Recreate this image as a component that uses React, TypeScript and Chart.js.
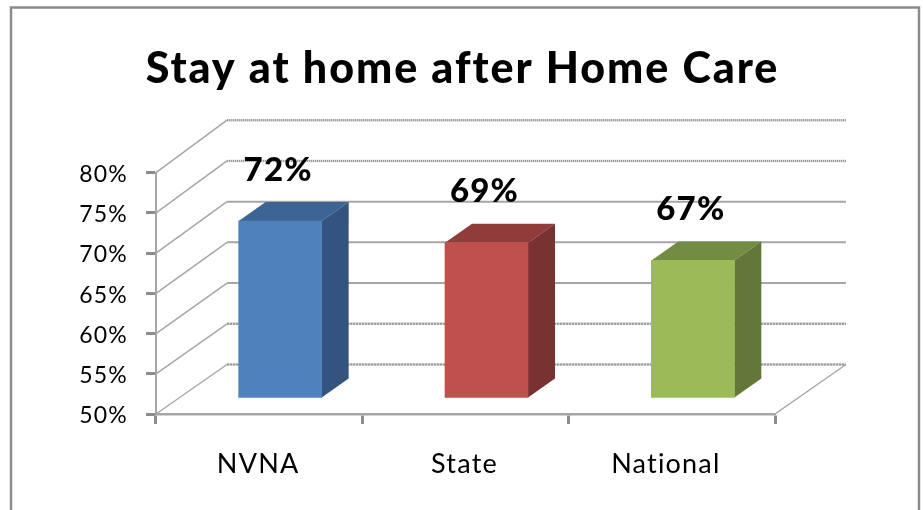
import React, { useEffect, useRef } from "react";
import { Chart, registerables } from "chart.js";

Chart.register(...registerables);

const titleText = "Stay at home after Home Care";
const categories = ["NVNA", "State", "National"];
const values = [72, 69.3, 67.1];
const frontColors = ["#4f81bd", "#c0504d", "#9bbb59"];
const topColors = ["#3c6494", "#8f3c3a", "#728c42"];
const sideColors = ["#32547e", "#773231", "#627738"];
const gridDashes = [[2, 1], [2, 1], [], [], [], [1, 1], [1, 1]];
const xLabelShift = [-1, -1, -6];

const GRID = "#a6a6a6";
const FONT = "Lato, sans-serif";
const BAR_DX = 21;
const BAR_DY = 16;
const DEPTH_X = 27;
const DEPTH_Y = 19;
const BACK_X = 71;

function shiftLabels(scale: any, dx: (i: number) => number, dy: number) {
  const orig = scale._computeLabelItems.bind(scale);
  scale._computeLabelItems = (area: any) =>
    orig(area).map((item: any, i: number) => ({
      ...item,
      options: {
        ...item.options,
        translation: [item.options.translation[0] + dx(i), item.options.translation[1] + dy],
      },
    }));
  scale._labelItems = null;
}

const threeD = {
  id: "threeD",
  afterLayout(chart: any) {
    const tb = chart.titleBlock;
    if (tb && !tb.__spaced) {
      const orig = tb.draw.bind(tb);
      tb.draw = () => {
        const c = chart.ctx;
        c.save();
        c.letterSpacing = "1.95px";
        c.translate(75, 0);
        orig();
        c.restore();
      };
      tb.__spaced = true;
    }
    const x = chart.scales.x;
    if (!x.__spaced) {
      const orig = x.draw.bind(x);
      x.draw = (a: any) => {
        const c = chart.ctx;
        c.save();
        c.letterSpacing = "4.5px";
        orig(a);
        c.restore();
      };
      shiftLabels(x, (i) => xLabelShift[i] || 0, 2);
      x.__spaced = true;
    }
    const y = chart.scales.y;
    if (!y.__spaced) {
      shiftLabels(y, () => 0, 2);
      y.__spaced = true;
    }
  },
  beforeDraw(chart: any) {
    const c = chart.ctx;
    c.letterSpacing = "1.2px";
    c.save();
    c.strokeStyle = "#8c8c8c";
    c.lineWidth = 2.5;
    c.beginPath();
    c.moveTo(11, 510);
    c.lineTo(11, 7.5);
    c.lineTo(919, 7.5);
    c.lineTo(919, 510);
    c.stroke();
    c.restore();
  },
  beforeDatasetsDraw(chart: any) {
    const c = chart.ctx;
    const { left, right, bottom } = chart.chartArea;
    const yScale = chart.scales.y;
    c.save();
    yScale.ticks.forEach((t: any, i: number) => {
      const y = yScale.getPixelForValue(t.value);
      const by = bottom - 49.5 - (bottom - y) * 1.012;
      const dash = gridDashes[i] || [];
      c.strokeStyle = GRID;
      c.setLineDash([]);
      c.lineWidth = 1.5;
      c.beginPath();
      c.moveTo(left, y);
      c.lineTo(left + BACK_X, by);
      c.stroke();
      if (dash.length) {
        c.strokeStyle = "#d6d6d6";
        c.lineWidth = 2.5;
        c.beginPath();
        c.moveTo(left + BACK_X, by);
        c.lineTo(right + BACK_X, by);
        c.stroke();
      }
      c.strokeStyle = dash.length ? "#999999" : GRID;
      c.lineWidth = 2;
      c.setLineDash(dash);
      c.beginPath();
      c.moveTo(left + BACK_X, by);
      c.lineTo(right + BACK_X, by);
      c.stroke();
    });
    c.setLineDash([]);
    const base = yScale.getPixelForValue(50);
    c.strokeStyle = GRID;
    c.lineWidth = 1.5;
    c.beginPath();
    c.moveTo(right, base);
    c.lineTo(right + BACK_X, base - 49.5);
    c.stroke();

    chart.getDatasetMeta(0).data.forEach((bar: any, i: number) => {
      const l = bar.x - bar.width / 2 + BAR_DX;
      const r = bar.x + bar.width / 2 + BAR_DX;
      const t = bar.y - BAR_DY;
      const b = bar.base - BAR_DY;
      c.fillStyle = topColors[i];
      c.beginPath();
      c.moveTo(l, t);
      c.lineTo(l + DEPTH_X, t - DEPTH_Y);
      c.lineTo(r + DEPTH_X, t - DEPTH_Y);
      c.lineTo(r, t);
      c.closePath();
      c.fill();
      c.fillStyle = sideColors[i];
      c.beginPath();
      c.moveTo(r, t);
      c.lineTo(r + DEPTH_X, t - DEPTH_Y);
      c.lineTo(r + DEPTH_X, b - DEPTH_Y);
      c.lineTo(r, b);
      c.closePath();
      c.fill();
    });
    c.restore();
  },
  beforeDatasetDraw(chart: any) {
    chart.ctx.save();
    chart.ctx.translate(BAR_DX, -BAR_DY);
  },
  afterDatasetDraw(chart: any) {
    chart.ctx.restore();
  },
  afterDatasetsDraw(chart: any) {
    const c = chart.ctx;
    c.save();
    c.font = `900 33px ${FONT}`;
    c.letterSpacing = "1.2px";
    c.fillStyle = "#000";
    c.textAlign = "center";
    c.textBaseline = "middle";
    chart.getDatasetMeta(0).data.forEach((bar: any, i: number) => {
      c.fillText(`${Math.round(values[i])}%`, bar.x + BAR_DX - 2, bar.y - BAR_DY - 51);
    });
    c.restore();
  },
};

export default function App() {
  const ref = useRef<HTMLCanvasElement>(null);
  useEffect(() => {
    const chart = new Chart(ref.current!, {
      type: "bar",
      data: {
        labels: categories,
        datasets: [
          {
            data: values,
            base: 50,
            backgroundColor: frontColors,
            barThickness: 83,
            clip: false,
          } as any,
        ],
      },
      options: {
        responsive: false,
        animation: false,
        layout: { padding: { top: 0, left: 0, right: 148, bottom: 0 } },
        plugins: {
          legend: { display: false },
          tooltip: { enabled: false },
          title: {
            display: true,
            text: titleText,
            color: "#000",
            font: { family: FONT, size: 43, weight: 900, lineHeight: 1.2 },
            padding: { top: 43, bottom: 78 },
          },
        },
        scales: {
          x: {
            grid: {
              drawOnChartArea: false,
              tickLength: 10,
              tickWidth: 3,
              tickColor: "#8c8c8c",
            },
            border: { color: GRID, width: 2.5 },
            ticks: {
              color: "#000",
              padding: 22,
              font: { family: FONT, size: 27 },
              maxRotation: 0,
            },
            afterFit(s: any) {
              s.height = 96;
            },
          },
          y: {
            min: 50,
            max: 80,
            grid: {
              drawOnChartArea: false,
              tickLength: 10,
              tickWidth: 3,
              tickColor: "#8c8c8c",
            },
            border: { color: GRID, width: 2, dash: [1, 1] },
            ticks: {
              stepSize: 5,
              color: "#000",
              padding: 18,
              font: { family: FONT, size: 23 },
              callback: (v: any) => `${v}%`,
            },
            afterFit(s: any) {
              s.width = 156;
            },
          },
        },
      },
      plugins: [threeD],
    } as any);
    return () => chart.destroy();
  }, []);
  return (
    <canvas
      ref={ref}
      width={923}
      height={510}
      style={{ position: "absolute", left: 0, top: 0, display: "block" }}
    />
  );
}
